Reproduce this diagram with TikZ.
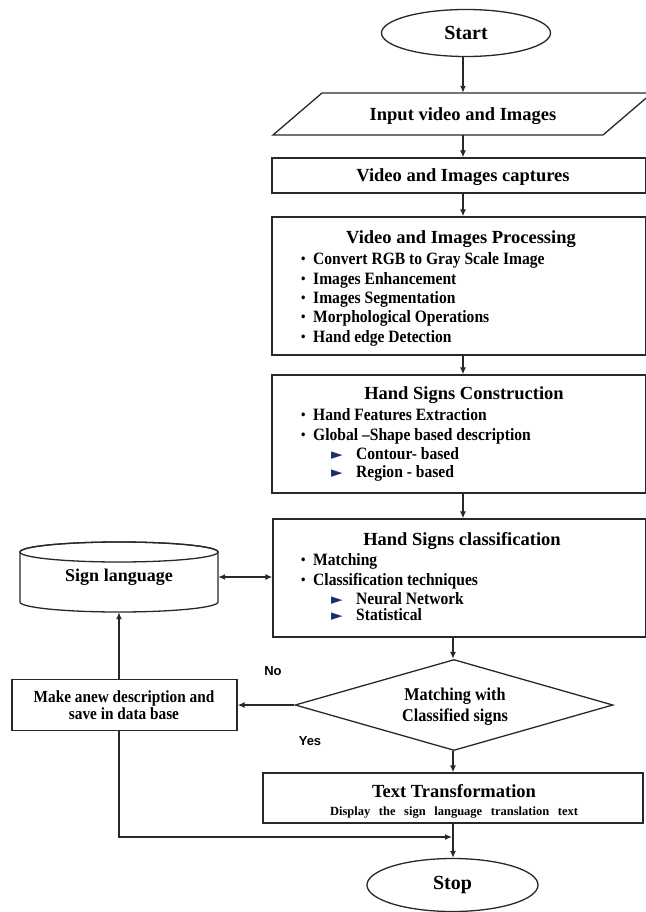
\documentclass[tikz,border=0pt]{standalone}
\usepackage{fontspec}
\setmainfont{Liberation Serif}
\newfontfamily\condfam{Liberation Serif}[FakeStretch=0.9]
\newfontfamily\sansfam{Liberation Sans}
\newfontfamily\symfam{DejaVu Sans}
\usetikzlibrary{shapes.geometric,arrows.meta}
\definecolor{navy}{RGB}{30,45,110}
\definecolor{lnc}{RGB}{40,40,40}
\newcommand\bul{\makebox[12pt][l]{\raisebox{0.8pt}{\fontsize{14}{14}\selectfont\textbullet}}}
\newcommand\tri{\makebox[25pt][l]{\symfam\fontsize{15}{15}\selectfont\textcolor{navy}{►}}}
\tikzset{
 ln/.style={draw=lnc, line width=1.3pt},
 arr/.style={ln, -{Latex[length=7pt,width=6pt]}},
 dbl/.style={ln, {Latex[length=7pt,width=6pt]}-{Latex[length=7pt,width=6pt]}},
 boxs/.style={ln, rectangle, fill=white, inner sep=0pt},
 term/.style={ln, ellipse, fill=white, inner sep=0pt, font=\fontsize{20}{22}\selectfont\bfseries},
 ttl/.style={inner sep=0pt, anchor=base, font=\fontsize{18.5}{20}\selectfont\bfseries},
 itm/.style={inner sep=0pt, anchor=base west, font=\condfam\fontsize{17.3}{19}\selectfont\bfseries},
 cnd/.style={inner sep=0pt, anchor=base, font=\condfam\fontsize{17}{19}\selectfont\bfseries},
 dtx/.style={inner sep=0pt, anchor=base, font=\condfam\fontsize{18}{20}\selectfont\bfseries},
 lab/.style={inner sep=0pt, font=\sansfam\fontsize{13}{15}\selectfont\bfseries},
}
\begin{document}
\begin{tikzpicture}[x=1pt,y=-1pt]
\useasboundingbox (0,0) rectangle (645,912);
\coordinate (ax1) at (463,0);
\coordinate (ax2) at (453,0);
% start
\node[term, minimum width=169pt, minimum height=47pt] (start) at (466,33) {Start};
% input
\draw[ln, fill=white] (273,135) -- (322,93) -- (652,93) -- (603,135) -- cycle;
\node[inner sep=0pt, minimum width=330pt, minimum height=42pt] (inp) at (462,114) {};
\node[ttl] (inpT) at (463,121) {Input video and Images};
% captures
\node[boxs, minimum width=374pt, minimum height=35pt] (cap) at (459,175.5) {};
\node[ttl] (capT) at (463,182) {Video and Images captures};
% processing
\node[boxs, minimum width=374pt, minimum height=138pt] (proc) at (459,286) {};
\node[ttl] (procT) at (461,243) {Video and Images Processing};
\node[itm] (p1) at (301,264) {\bul Convert RGB to Gray Scale Image};
\node[itm] (p2) at (301,284) {\bul Images Enhancement};
\node[itm] (p3) at (301,303) {\bul Images Segmentation};
\node[itm] (p4) at (301,322.5) {\bul Morphological Operations};
\node[itm] (p5) at (301,342) {\bul Hand edge Detection};
% construction
\node[boxs, minimum width=374pt, minimum height=118pt] (cons) at (459,434) {};
\node[ttl] (consT) at (464,399) {Hand Signs Construction};
\node[itm] (c1) at (301,420) {\bul Hand Features Extraction};
\node[itm] (c2) at (301,440) {\bul Global –Shape based description};
\node[itm] (c3) at (331,459) {\tri Contour- based};
\node[itm] (c4) at (331,477) {\tri Region - based};
% classification
\node[boxs, minimum width=373pt, minimum height=118pt] (cls) at (459.5,578) {};
\node[ttl] (clsT) at (462,545) {Hand Signs classification};
\node[itm] (k1) at (301,565) {\bul Matching};
\node[itm] (k2) at (301,585) {\bul Classification techniques};
\node[itm] (k3) at (331,604) {\tri Neural Network};
\node[itm] (k4) at (331,620) {\tri Statistical};
% sign language cylinder
\draw[ln, fill=white] (20,552) -- (20,602) arc[start angle=180, end angle=360, x radius=99pt, y radius=10pt] -- (218,552) arc[start angle=0, end angle=180, x radius=99pt, y radius=10pt] -- cycle;
\draw[ln] (119,552) ellipse [x radius=99pt, y radius=10pt];
\node[inner sep=0pt, minimum width=198pt, minimum height=70pt, font=\fontsize{18}{20}\selectfont\bfseries] (sign) at (119,577) {Sign language};
% decision
\node[ln, diamond, fill=white, inner sep=0pt, minimum width=318pt, minimum height=91pt] (dia) at (454,705) {};
\node[dtx] (diaT1) at (455,700) {Matching with};
\node[dtx] (diaT2) at (455,721.5) {Classified signs};
% make anew
\node[boxs, minimum width=225pt, minimum height=51pt] (make) at (124.5,705) {};
\node[cnd] (makeT1) at (124,702) {Make anew description and};
\node[cnd] (makeT2) at (124,719) {save in data base};
% text transformation
\node[boxs, minimum width=380pt, minimum height=50pt] (txt) at (453,798) {};
\node[ttl] (txtT) at (454,797) {Text Transformation};
\node[inner sep=0pt, anchor=base, font=\fontsize{12.5}{14}\selectfont\bfseries] (txtS) at (454,815) {\makebox[248pt][s]{Display the sign language translation text}};
% stop
\node[term, minimum width=171pt, minimum height=53pt] (stop) at (452.5,885) {Stop};
% labels
\node[lab] (no) at (273,671) {No};
\node[lab] (yes) at (310,741) {Yes};
% connectors
\draw[arr] (ax1 |- start.south) -- (ax1 |- inp.north);
\draw[arr] (ax1 |- inp.south) -- (ax1 |- cap.north);
\draw[arr] (ax1 |- cap.south) -- (ax1 |- proc.north);
\draw[arr] (ax1 |- proc.south) -- (ax1 |- cons.north);
\draw[arr] (ax1 |- cons.south) -- (ax1 |- cls.north);
\draw[arr] (ax2 |- cls.south) -- (ax2 |- dia.north);
\draw[arr] (ax2 |- dia.south) -- (ax2 |- txt.north);
\draw[dbl] (sign.east) -- (sign.east -| cls.west);
\draw[arr] (dia.west) -- (dia.west -| make.east);
\draw[arr] (sign.south |- make.north) -- (sign.south);
\coordinate (join) at (452,837);
\draw[arr] (sign.south |- make.south) |- (join);
\draw[arr] (ax2 |- txt.south) -- (ax2 |- stop.north);
\end{tikzpicture}
\end{document}
